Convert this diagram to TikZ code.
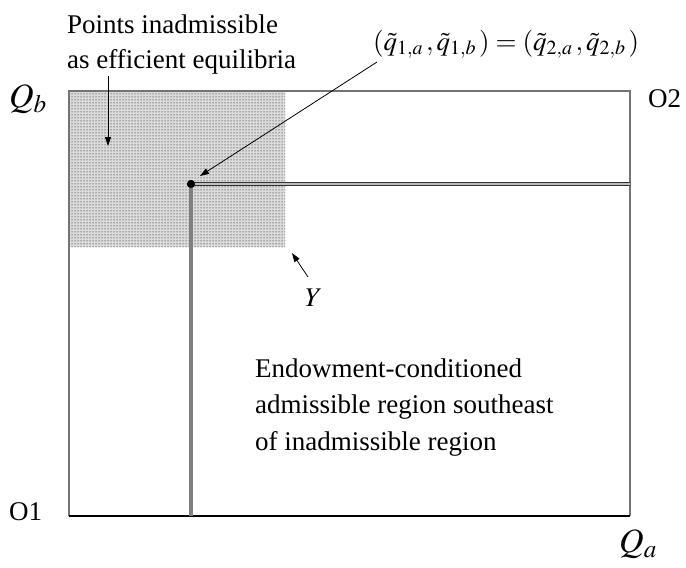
\documentclass[tikz,border=0pt]{standalone}
\usepackage{mathptmx}
\usepackage{fontspec}
\setmainfont{Liberation Serif}
\usetikzlibrary{arrows.meta,patterns}
\begin{document}
\begin{tikzpicture}[x=1pt,y=-1pt,
  txt/.style={inner sep=0pt,anchor=base west,font=\fontsize{27}{35}\selectfont},
  big/.style={inner sep=0pt,anchor=base west,font=\fontsize{34}{40}\selectfont},
  arr/.style={-{Triangle[length=9pt,width=6pt]},line width=0.8pt,black},
  frame/.style={line width=1.6pt,draw=black!55},
  blackedge/.style={line width=1.6pt,draw=black},
  stripe/.style={draw=black!80,line width=1pt,double=black!25,double distance=1.6pt},
  bar/.style={draw=black!50,line width=3.2pt}]
\useasboundingbox (0,0) rectangle (686,568);
% corners
\coordinate (ll) at (69,516);
\coordinate (ul) at (69,91);
\coordinate (ur) at (630,91);
\coordinate (lr) at (630,516);
% shaded inadmissible region
\fill[black!14] (ul) rectangle (285,247);
\fill[pattern=dots,pattern color=black] (ul) rectangle (285,247);
% frame
\draw[frame] (ll) -- (ul) -- (ur) -- (lr);
\draw[blackedge] (ll) -- (lr);
% point
\node[circle,fill=black,inner sep=0pt,minimum size=8pt] (pt) at (191,184) {};
\coordinate (ptr) at (630,184);
\coordinate (ptb) at (191,516);
\draw[bar] (pt.center) -- (ptb);
\draw[stripe] (pt.center) -- (ptr);
\fill[black] (pt) circle (4pt);
% texts
\node[txt] (t1) at (67,33) {Points inadmissible};
\node[txt] (t2) at (67,68) {as efficient equilibria};
\node[txt,font=\fontsize{27}{32}\selectfont] (eq) at (373,50) {$(\tilde q_{1,a}\,,\tilde q_{1,b}\,)=(\tilde q_{2,a}\,,\tilde q_{2,b}\,)$};
\node[big] (qb) at (9,107) {$Q_b$};
\node[big] (qa) at (619,552) {$Q_a$};
\node[txt] (o1) at (9,520) {O1};
\node[txt] (o2) at (648,107) {O2};
\node[txt] (y) at (305,306) {$Y$};
\node[txt] (e1) at (255,377) {Endowment-conditioned};
\node[txt] (e2) at (255,413) {admissible region southeast};
\node[txt] (e3) at (255,450) {of inadmissible region};
% arrows
\coordinate (a1s) at (108,76);
\coordinate (a1e) at (108,146);
\coordinate (a2s) at (377,62);
\coordinate (a2e) at (200,176);
\coordinate (a3s) at (308,277);
\coordinate (a3e) at (292,253);
\draw[arr] (a1s) -- (a1e);
\draw[arr] (a2s) -- (a2e);
\draw[arr] (a3s) -- (a3e);
\end{tikzpicture}
\end{document}
